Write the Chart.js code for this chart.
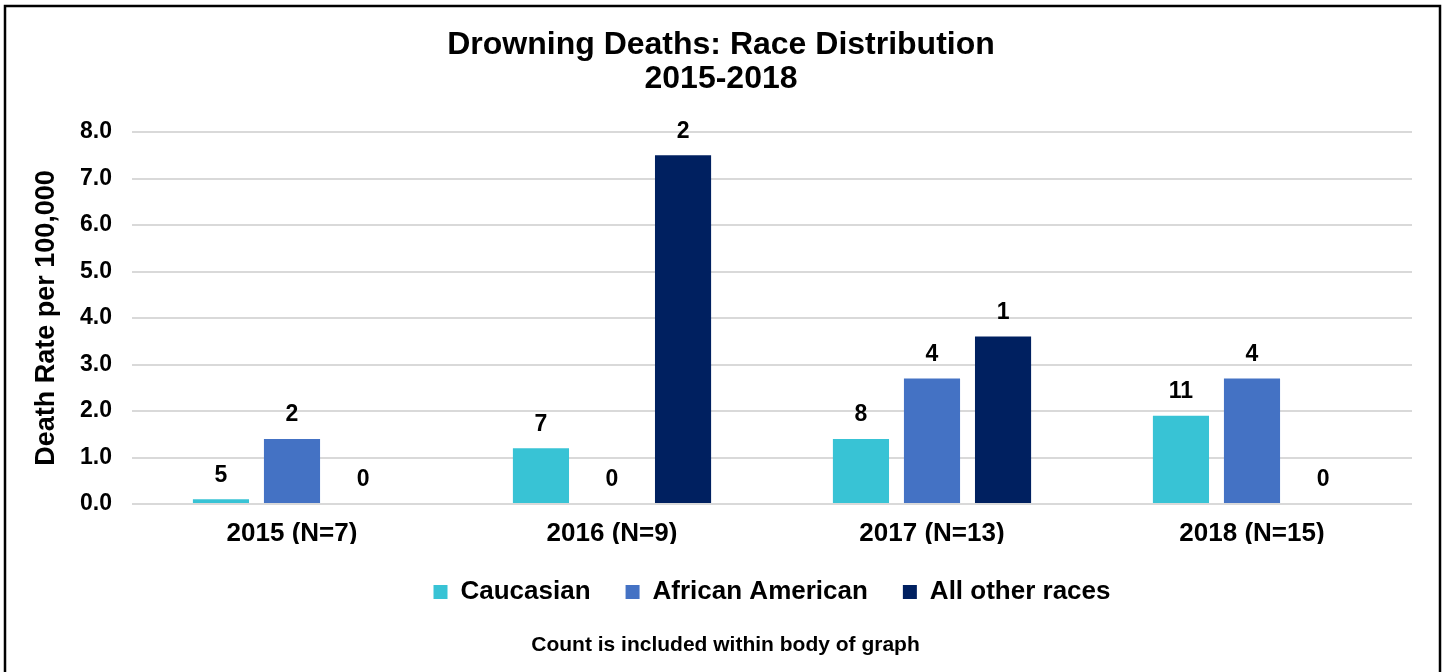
<!DOCTYPE html>
<html>
<head>
<meta charset="utf-8">
<title>Drowning Deaths: Race Distribution</title>
<script src="https://cdn.jsdelivr.net/npm/chart.js@4.4.1/dist/chart.umd.min.js"></script>
<style>
  html, body { margin: 0; padding: 0; background: #fff; }
  canvas { display: block; }
</style>
</head>
<body>
<canvas id="chart" width="1447" height="672"></canvas>
<script>
// categories and series
const categories = ['2015 (N=7)', '2016 (N=9)', '2017 (N=13)', '2018 (N=15)'];
const caucasianRate = [0.1, 1.2, 1.4, 1.9];
const africanAmericanRate = [1.4, 0, 2.7, 2.7];
const otherRacesRate = [0, 7.5, 3.6, 0];

// counts printed over each bar
const caucasianCount = [5, 7, 8, 11];
const africanAmericanCount = [2, 0, 4, 4];
const otherRacesCount = [0, 2, 1, 0];

const seriesNames = ['Caucasian', 'African American', 'All other races'];
const footNote = 'Count is included within body of graph';

Chart.defaults.font.family = "'Liberation Sans', Arial, sans-serif";
Chart.defaults.font.weight = 'bold';
Chart.defaults.color = '#000';

const countLabels = {
  id: 'countLabels',
  afterDatasetsDraw(chart) {
    const ctx = chart.ctx;
    ctx.save();
    ctx.font = "bold 23px 'Liberation Sans', Arial, sans-serif";
    ctx.fillStyle = '#000';
    ctx.textAlign = 'center';
    ctx.textBaseline = 'middle';
    chart.data.datasets.forEach((ds, i) => {
      const meta = chart.getDatasetMeta(i);
      meta.data.forEach((bar, j) => {
        ctx.fillText(String(ds.counts[j]), bar.x, bar.y - 24);
      });
    });
    ctx.restore();
  }
};

const frameAndNote = {
  id: 'frameAndNote',
  afterDraw(chart) {
    const ctx = chart.ctx;
    ctx.save();
    ctx.strokeStyle = '#000';
    ctx.lineWidth = 2.5;
    ctx.strokeRect(5, 6, 1435, 720);
    ctx.font = "bold 21px 'Liberation Sans', Arial, sans-serif";
    ctx.fillStyle = '#000';
    ctx.textAlign = 'center';
    ctx.textBaseline = 'middle';
    ctx.fillText(footNote, chart.width / 2 + 2, 645);
    ctx.restore();
  }
};

const ctx = document.getElementById('chart').getContext('2d');
new Chart(ctx, {
  type: 'bar',
  data: {
    labels: categories,
    datasets: [
      {
        label: seriesNames[0],
        data: caucasianRate,
        counts: caucasianCount,
        backgroundColor: '#38C3D5',
        borderWidth: 0
      },
      {
        label: seriesNames[1],
        data: africanAmericanRate,
        counts: africanAmericanCount,
        backgroundColor: '#4472C4',
        borderWidth: 0
      },
      {
        label: seriesNames[2],
        data: otherRacesRate,
        counts: otherRacesCount,
        backgroundColor: '#002060',
        borderWidth: 0
      }
    ]
  },
  options: {
    responsive: false,
    animation: false,
    categoryPercentage: 0.666,
    barPercentage: 0.79,
    layout: {
      padding: { top: 10, left: 30, right: 35, bottom: 57 }
    },
    plugins: {
      title: {
        display: true,
        text: ['Drowning Deaths: Race Distribution', '2015-2018'],
        font: { size: 32, weight: 'bold', lineHeight: 1.0625 },
        color: '#000',
        padding: { top: 18, bottom: 36 }
      },
      legend: {
        position: 'bottom',
        fullSize: false,
        labels: {
          boxWidth: 14,
          boxHeight: 14,
          padding: 35,
          font: { size: 26, weight: 'bold' },
          color: '#000'
        }
      },
      tooltip: { enabled: false }
    },
    scales: {
      x: {
        grid: { display: false, drawTicks: false },
        border: { display: false },
        ticks: {
          padding: 14,
          font: { size: 26, weight: 'bold' },
          color: '#000'
        },
        afterFit(scale) { scale.height = 40; }
      },
      y: {
        min: 0,
        max: 8,
        grid: { color: '#D9D9D9', lineWidth: 2, drawTicks: false },
        border: { display: false },
        ticks: {
          stepSize: 1,
          padding: 20,
          font: { size: 23, weight: 'bold' },
          color: '#000',
          callback: (v) => v.toFixed(1)
        },
        title: {
          display: true,
          text: 'Death Rate per 100,000',
          font: { size: 27, weight: 'bold' },
          color: '#000',
          padding: { top: 0, bottom: 0 }
        },
        afterFit(scale) { scale.width = 102; }
      }
    }
  },
  plugins: [countLabels, frameAndNote]
});
</script>
</body>
</html>
